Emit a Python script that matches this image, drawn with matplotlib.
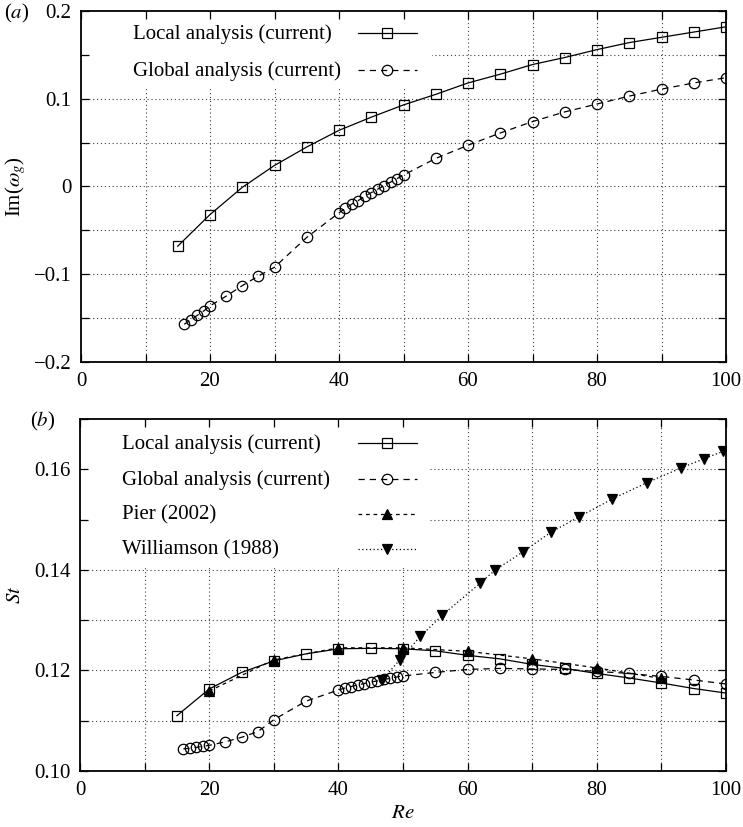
import numpy as np
import matplotlib
matplotlib.use("Agg")
import matplotlib.pyplot as plt
from matplotlib.patches import Rectangle

plt.rcParams['font.family'] = ['Liberation Serif', 'DejaVu Serif']
plt.rcParams['mathtext.fontset'] = 'stix'
plt.rcParams['font.size'] = 15

# ---------------- data ----------------
re_local = [15, 20, 25, 30, 35, 40, 45, 50, 55, 60, 65, 70, 75, 80, 85, 90, 95, 100]
im_local = [-0.068, -0.032, -0.001, 0.024, 0.045, 0.064, 0.079, 0.093, 0.105, 0.118,
            0.128, 0.139, 0.147, 0.156, 0.164, 0.170, 0.176, 0.182]

re_global = [16, 17, 18, 19, 20, 22.5, 25, 27.5, 30, 35,
             40, 41, 42, 43, 44, 45, 46, 47, 48, 49, 50,
             55, 60, 65, 70, 75, 80, 85, 90, 95, 100]
im_global = [-0.157, -0.152, -0.147, -0.142, -0.136, -0.125, -0.113, -0.102, -0.092, -0.058,
             -0.030, -0.025, -0.020, -0.016, -0.011, -0.007, -0.003, 0.001, 0.005, 0.009, 0.013,
             0.032, 0.047, 0.061, 0.074, 0.085, 0.094, 0.103, 0.111, 0.118, 0.124]

st_local = [0.1110, 0.1163, 0.1196, 0.1219, 0.1233, 0.1243, 0.1244, 0.1243, 0.1239, 0.1230,
            0.1223, 0.1212, 0.1204, 0.1194, 0.1185, 0.1175, 0.1164, 0.1155]
st_global = [0.1044, 0.1045, 0.1047, 0.1049, 0.1051, 0.1058, 0.1067, 0.1078, 0.1102, 0.1139,
             0.1161, 0.1165, 0.1168, 0.1171, 0.1174, 0.1177, 0.1179, 0.1182, 0.1184, 0.1187, 0.1189,
             0.1196, 0.1202, 0.1204, 0.1203, 0.1202, 0.1198, 0.1194, 0.1188, 0.1181, 0.1173]

re_pier = [20, 30, 40, 50, 60, 70, 80, 90]
st_pier = [0.1159, 0.1221, 0.1245, 0.1245, 0.1238, 0.1223, 0.1205, 0.1184]

re_will = [46.7, 49.5, 52.7, 56.1, 61.9, 64.3, 68.6, 72.9, 77.2, 82.4, 87.7, 93.1, 96.6, 99.6]
st_will = [0.1180, 0.1221, 0.1268, 0.1310, 0.1373, 0.1400, 0.1436, 0.1475, 0.1505, 0.1541,
           0.1573, 0.1603, 0.1621, 0.1636]

labels_a = ['Local analysis (current)', 'Global analysis (current)']
labels_b = ['Local analysis (current)', 'Global analysis (current)',
            'Pier (2002)', 'Williamson (1988)']

xticks = list(range(0, 101, 10))
xlabels = ['0', '', '20', '', '40', '', '60', '', '80', '', '100']
yticks_a = [-0.2, -0.15, -0.1, -0.05, 0.0, 0.05, 0.1, 0.15, 0.2]
ylabels_a = ['\u22120.2', '', '\u22120.1', '', '0', '', '0.1', '', '0.2']
yticks_b = [0.10, 0.11, 0.12, 0.13, 0.14, 0.15, 0.16, 0.17]
ylabels_b = ['0.10', '', '0.12', '', '0.14', '', '0.16', '']

# ---------------- figure ----------------
W, H = 743, 827
fig = plt.figure(figsize=(W / 100, H / 100), dpi=100)
A1 = (81, 11, 726, 362)   # left, top, right, bottom in pixels
A2 = (80, 419, 726, 771)
ax1 = fig.add_axes([A1[0] / W, 1 - A1[3] / H, (A1[2] - A1[0]) / W, (A1[3] - A1[1]) / H])
ax2 = fig.add_axes([A2[0] / W, 1 - A2[3] / H, (A2[2] - A2[0]) / W, (A2[3] - A2[1]) / H])

grid_kw = dict(color='0.25', lw=0.8, ls=(0, (1, 2.5)), zorder=0.5)
lw = 0.9
mk = dict(mec='black', mew=0.9)

styles = [
    dict(ls='-', marker='s', ms=7.5, mfc='none'),
    dict(ls=(0, (5, 4)), marker='o', ms=7.5, mfc='none'),
    dict(ls=(0, (3, 3)), marker='^', ms=6.5, mfc='black'),
    dict(ls=(0, (1, 2)), marker='v', ms=6.5, mfc='black'),
]


def style(ax, yt, yl, ylim):
    ax.set_xlim(0, 100)
    ax.set_ylim(*ylim)
    ax.set_xticks(xticks)
    ax.set_xticklabels(xlabels)
    ax.set_yticks(yt)
    ax.set_yticklabels(yl)
    ax.tick_params(direction='in', length=6, width=0.9, top=True, right=True,
                   labelsize=15, pad=7)
    for v in xticks[1:-1]:
        ax.axvline(v, **grid_kw)
    for v in yt[1:-1]:
        ax.axhline(v, **grid_kw)
    for s in ax.spines.values():
        s.set_linewidth(1.3)


def key(ax, box, labels, rows_px, text_x_px):
    """gnuplot-like key: left aligned text, sample line on the right"""
    l, t, r, b = box
    fx = lambda px: (px - l) / (r - l)
    fy = lambda py: (b - py) / (b - t)
    for lab, py, st in zip(labels, rows_px, styles):
        y = fy(py)
        ax.text(fx(text_x_px), y - 0.004, lab, transform=ax.transAxes,
                ha='left', va='center', fontsize=15, zorder=3)
        ax.plot([fx(358), fx(417)], [y, y], transform=ax.transAxes, color='black',
                lw=lw, ls=st['ls'], clip_on=False, zorder=3)
        ax.plot([fx(387)], [y], transform=ax.transAxes, ls='none', marker=st['marker'],
                ms=st['ms'], mfc=st['mfc'], clip_on=False, zorder=3, **mk)


style(ax1, yticks_a, ylabels_a, (-0.2, 0.2))
style(ax2, yticks_b, ylabels_b, (0.10, 0.17))

# white key boxes hiding the grid
ax1.add_patch(Rectangle((0.012, 0.781), 0.532, 0.199, transform=ax1.transAxes,
                        facecolor='white', edgecolor='none', zorder=0.7))
ax2.add_patch(Rectangle((0.012, 0.582), 0.530, 0.398, transform=ax2.transAxes,
                        facecolor='white', edgecolor='none', zorder=0.7))

# ---- panel a ----
for xs, ys, st in [(re_local, im_local, styles[0]), (re_global, im_global, styles[1])]:
    ax1.plot(xs, ys, color='black', lw=lw, zorder=2, **st, **mk)
key(ax1, A1, labels_a, [33, 70], 133)

# ---- panel b ----
for xs, ys, st in [(re_local, st_local, styles[0]), (re_global, st_global, styles[1]),
                   (re_pier, st_pier, styles[2]), (re_will, st_will, styles[3])]:
    ax2.plot(xs, ys, color='black', lw=lw, zorder=2, **st, **mk)
key(ax2, A2, labels_b, [443, 478.5, 513.5, 548.5], 122)

# ---- labels ----
fig.text(4 / W, 1 - 13 / H, r'($a$)', fontsize=15, ha='left', va='center')
fig.text(30 / W, 1 - 421 / H, r'($b$)', fontsize=15, ha='left', va='center')
fig.text(16 / W, 1 - 187 / H, r'Im($\omega_g$)', fontsize=15, rotation=90,
         ha='center', va='center')
fig.text(16 / W, 1 - 595 / H, r'$St$', fontsize=15, rotation=90, ha='center', va='center')
fig.text(403 / W, 1 - 814 / H, r'$Re$', fontsize=15, ha='center', va='center')

fig.savefig('out.png', dpi=100)
